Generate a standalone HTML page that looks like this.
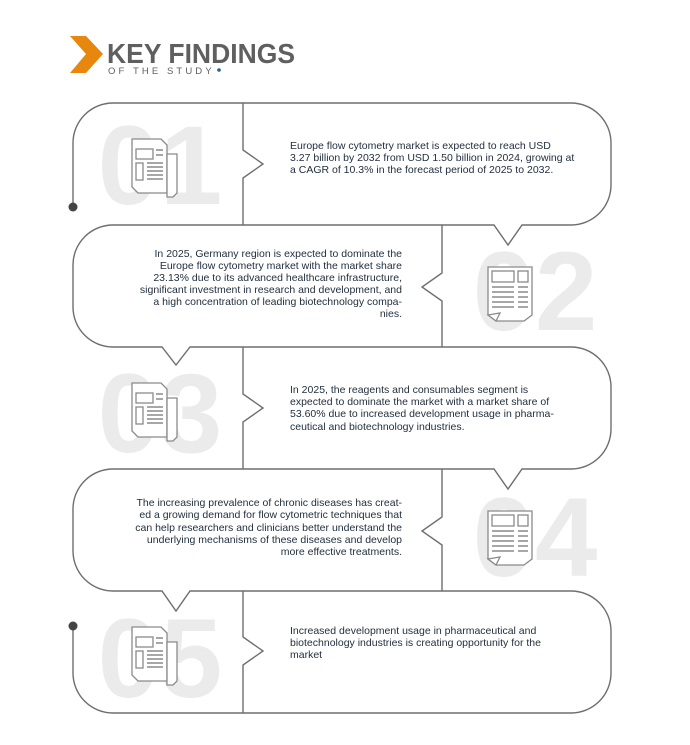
<!DOCTYPE html>
<html><head><meta charset="utf-8"><style>
html,body{margin:0;padding:0;background:#fff;width:690px;height:745px;overflow:hidden}
svg{display:block}
.t{font-family:"Liberation Sans",sans-serif;font-size:10.5px;fill:#22303f}
.r{text-anchor:end}
.n{font-family:"Liberation Sans",sans-serif;font-weight:bold;font-size:112px;fill:#ebebeb;text-anchor:middle}
.ln{fill:none;stroke:#6e6e6e;stroke-width:1.4}
.ic{fill:#fff;stroke:#8a8a8a;stroke-width:1.3}
</style></head><body>
<svg width="690" height="745" viewBox="0 0 690 745">
<defs>
<g id="ia">
<path class="ic" d="M-23,-27 h29 l6,6 v48 h-29 l-6,-6z"/>
<path class="ic" d="M12,-12 h10 v39 l-4,4 h-6z"/>
<rect class="ic" x="-19" y="-17" width="17" height="10"/>
<rect class="ic" x="-19" y="-3" width="7" height="17"/>
<path class="ln" style="stroke:#8a8a8a" d="M1,-16h7M1,-11h7M-8,-3h16M-8,1h16M-8,5h16M-8,9h16M-8,13h16"/>
</g>
<g id="ib">
<path class="ic" d="M-22,-26 h44 v48 l-8,6 h-28 l-8,-6z"/>
<path class="ic" d="M-22,22 l8,6 l4,-8z"/>
<rect class="ic" x="-18" y="-22" width="22" height="11"/>
<rect class="ic" x="8" y="-22" width="10" height="11"/>
<path class="ln" style="stroke:#8a8a8a" d="M-18,-6h22M-18,-1h22M-18,4h22M-18,9h22M-18,14h22M8,-6h10M8,-1h10M8,4h10M8,9h10M8,14h10"/>
</g>
</defs>

<polygon points="70,36 86,36 103,54 86,73 70,73 86,54" fill="#e8870e"/>
<text x="107" y="63" textLength="188" lengthAdjust="spacingAndGlyphs" style="font-family:'Liberation Sans',sans-serif;font-weight:bold;font-size:28px;fill:#5f5f5f">KEY FINDINGS</text>
<text x="108" y="74" style="font-family:'Liberation Sans',sans-serif;font-size:9.5px;letter-spacing:3.1px;fill:#5f5f5f">OF THE STUDY</text>
<circle cx="219" cy="70" r="1.8" fill="#1f5f8f"/>

<text class="n" x="160" y="204">01</text>
<text class="n" x="535" y="330">02</text>
<text class="n" x="160" y="452">03</text>
<text class="n" x="535" y="576">04</text>
<text class="n" x="160" y="697">05</text>

<path class="ln" d="M73,207 V143 A40,40 0 0 1 113,103 H571 A40,40 0 0 1 611,143 V185 A40,40 0 0 1 571,225 H522 L508,245 L494,225 H113 A40,40 0 0 0 73,265 V307 A40,40 0 0 0 113,347 H162 L176,365 L190,347 H571 A40,40 0 0 1 611,387 V429 A40,40 0 0 1 571,469 H522 L508,489 L494,469 H113 A40,40 0 0 0 73,509 V551 A40,40 0 0 0 113,591 H162 L176,611 L190,591 H571 A40,40 0 0 1 611,631 V673 A40,40 0 0 1 571,713 H113 A40,40 0 0 1 73,673 V626"/>
<circle cx="73" cy="207" r="4.5" fill="#444"/>
<circle cx="73" cy="626" r="4.5" fill="#444"/>

<path class="ln" d="M243,103 V150 L263,164 L243,178 V225"/>
<path class="ln" d="M442,225 V273 L422,287 L442,301 V347"/>
<path class="ln" d="M243,347 V394 L263,408 L243,422 V469"/>
<path class="ln" d="M442,469 V517 L422,531 L442,545 V591"/>
<path class="ln" d="M243,591 V637 L263,651 L243,665 V713"/>

<use href="#ia" x="155" y="166"/>
<use href="#ib" x="510" y="293"/>
<use href="#ia" x="155" y="410"/>
<use href="#ib" x="510" y="537"/>
<use href="#ia" x="155" y="654"/>

<text class="t" x="290" y="149">Europe flow cytometry market is expected to reach USD</text>
<text class="t" x="290" y="161">3.27 billion by 2032 from USD 1.50 billion in 2024, growing at</text>
<text class="t" x="290" y="173">a CAGR of 10.3% in the forecast period of 2025 to 2032.</text>

<text class="t r" x="402" y="257">In 2025, Germany region is expected to dominate the</text>
<text class="t r" x="402" y="269">Europe flow cytometry market with the market share</text>
<text class="t r" x="402" y="281">23.13% due to its advanced healthcare infrastructure,</text>
<text class="t r" x="402" y="293">significant investment in research and development, and</text>
<text class="t r" x="402" y="305">a high concentration of leading biotechnology compa-</text>
<text class="t r" x="402" y="317">nies.</text>

<text class="t" x="290" y="393">In 2025, the reagents and consumables segment is</text>
<text class="t" x="290" y="405">expected to dominate the market with a market share of</text>
<text class="t" x="290" y="417">53.60% due to increased development usage  in pharma-</text>
<text class="t" x="290" y="430">ceutical and biotechnology industries.</text>

<text class="t r" x="402" y="506">The increasing prevalence of chronic diseases has creat-</text>
<text class="t r" x="402" y="518">ed a growing demand for flow cytometric techniques that</text>
<text class="t r" x="402" y="531">can help researchers and clinicians better understand the</text>
<text class="t r" x="402" y="543">underlying mechanisms of these diseases and develop</text>
<text class="t r" x="402" y="555">more effective treatments.</text>

<text class="t" x="290" y="634">Increased development usage  in pharmaceutical and</text>
<text class="t" x="290" y="646">biotechnology industries is creating opportunity for the</text>
<text class="t" x="290" y="658">market</text>
</svg>
</body></html>
